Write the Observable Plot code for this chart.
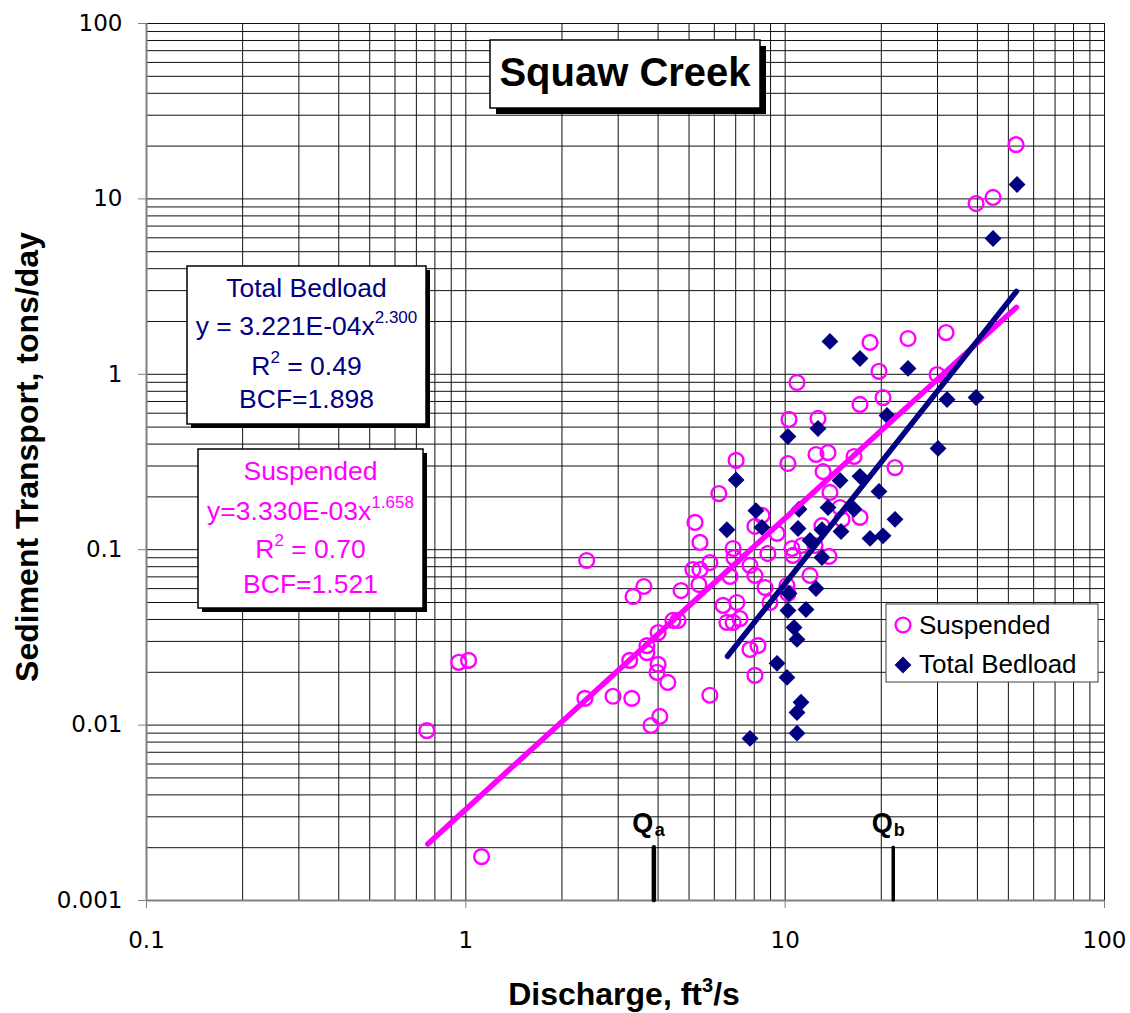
<!DOCTYPE html>
<html><head><meta charset="utf-8">
<script src="https://cdn.jsdelivr.net/npm/d3@7"></script>
<script src="https://cdn.jsdelivr.net/npm/@observablehq/plot@0.6"></script>
<style>body{margin:0;background:#fff}#chart{width:1130px;height:1013px}</style>
</head><body><div id="chart"></div>
<script>
// ---- data ----
const suspendedDischarge = [0.755,0.95,1.02,1.12,2.39,2.36,2.89,3.31,3.34,3.61,4.72,4.0,4.45,4.62,3.69,3.69,3.26,4.0,3.97,4.29,4.05,3.8,
  5.22,5.41,5.14,5.41,5.37,7.02,6.2,5.81,6.87,6.91,6.72,7.76,8.04,8.83,8.65,8.96,10.13,10.2,6.39,7.06,6.57,7.22,6.87,7.76,8.22,8.04,5.81,
  8.46,8.04,9.43,10.5,10.58,11.29,11.96,10.89,10.28,12.67,10.2,12.49,13.62,16.43,13.14,13.81,22.08,15.07,17.15,13.04,12.4,13.72,14.85,
  18.44,24.25,31.9,19.67,20.25,17.15,29.9,52.85,39.61,44.77];
const suspendedTransport = [0.0093,0.0228,0.0234,0.00178,0.0868,0.0142,0.0146,0.0142,0.0541,0.0617,0.0585,0.0337,0.0395,0.0395,0.0284,0.0259,0.0234,0.0222,0.02,0.0175,0.0112,0.00995,
  0.143,0.11,0.0771,0.0771,0.0633,0.323,0.209,0.0845,0.1016,0.0902,0.0704,0.0813,0.0713,0.0951,0.0609,0.05,0.0625,0.0563,0.0481,0.05,0.0385,0.0405,0.0385,0.027,0.0284,0.0192,0.0148,
  0.157,0.136,0.124,0.1016,0.0927,0.1057,0.0713,0.898,0.553,0.56,0.31,0.349,0.358,0.34,0.279,0.212,0.294,0.149,0.153,0.137,0.1057,0.0915,0.174,
  1.52,1.6,1.73,1.04,0.737,0.673,0.997,20.4,9.41,10.19];
const bedloadDischarge = [13.81,17.15,24.25,32.13,39.61,20.84,12.67,10.2,30.11,53.23,44.77,7.02,14.85,17.15,19.67,8.1,11.05,13.62,16.43,
  6.57,8.46,10.97,13.04,14.96,22.08,18.44,20.25,11.96,13.04,12.49,10.28,10.2,11.62,10.66,10.89,9.43,10.13,11.21,10.89,10.89,7.76];
const bedloadTransport = [1.54,1.23,1.08,0.718,0.737,0.582,0.491,0.442,0.378,12.08,5.95,0.25,0.248,0.262,0.215,0.167,0.17,0.174,0.17,
  0.13,0.134,0.132,0.13,0.127,0.149,0.116,0.12,0.113,0.0902,0.0601,0.0563,0.045,0.0456,0.036,0.0308,0.0225,0.0187,0.0135,0.0118,0.009,0.0084];
// fitted trend lines (end points)
const suspendedFitDischarge = [0.76, 53];
const suspendedFitTransport = [0.0021, 2.41];
const bedloadFitDischarge = [6.6, 53];
const bedloadFitTransport = [0.0247, 2.97];
// Qa / Qb markers
const qDischarge = [3.88, 21.8];
const qSubscripts = ["a", "b"];
const qBarBottom = 0.001, qBarTop = 0.002, qLabelLevel = 0.00275;
// ticks & grid
const xTicks = [0.1, 1, 10, 100];
const xTickLabels = ["0.1", "1", "10", "100"];
const yTicks = [0.001, 0.01, 0.1, 1, 10, 100];
const yTickLabels = ["0.001", "0.01", "0.1", "1", "10", "100"];
const xGrid = [0.1,0.2,0.3,0.4,0.5,0.6,0.7,0.8,0.9,1,2,3,4,5,6,7,8,9,10,20,30,40,50,60,70,80,90,100];
const yGrid = [0.001,0.002,0.003,0.004,0.005,0.006,0.007,0.008,0.009,0.01,0.02,0.03,0.04,0.05,0.06,0.07,0.08,0.09,
  0.1,0.2,0.3,0.4,0.5,0.6,0.7,0.8,0.9,1,2,3,4,5,6,7,8,9,10,20,30,40,50,60,70,80,90,100];

const suspended = suspendedDischarge.map((q, i) => ({q, t: suspendedTransport[i]}));
const bedload = bedloadDischarge.map((q, i) => ({q, t: bedloadTransport[i]}));
const suspendedFit = suspendedFitDischarge.map((q, i) => ({q, t: suspendedFitTransport[i]}));
const bedloadFit = bedloadFitDischarge.map((q, i) => ({q, t: bedloadFitTransport[i]}));
const qMarks = qDischarge.map((q, i) => ({q, sub: qSubscripts[i]}));

const MAGENTA = "#FF00FF", NAVY = "#000080";
const ARIAL = "Arial, 'Liberation Sans', sans-serif";

const chart = Plot.plot({
  width: 1130, height: 1013,
  marginLeft: 146, marginRight: 26, marginTop: 23, marginBottom: 113,
  x: {type: "log", domain: [0.1, 100]},
  y: {type: "log", domain: [0.001, 100]},
  style: {background: "#fff", fontFamily: "'DejaVu Sans', sans-serif", fontSize: "23px", color: "#000", overflow: "visible"},
  marks: [
    Plot.ruleX(xGrid, {stroke: "#111", strokeWidth: 1}),
    Plot.ruleY(yGrid, {stroke: "#111", strokeWidth: 1}),
    Plot.ruleX([0.1], {stroke: "#808080", strokeWidth: 2}),
    Plot.ruleY([0.001], {stroke: "#808080", strokeWidth: 2}),
    Plot.axisX(xTicks, {tickFormat: d => xTickLabels[xTicks.indexOf(d)], label: null, tickSize: 8, tickPadding: 23, stroke: "#808080", fontSize: 23, fill: "#000"}),
    Plot.axisY(yTicks, {tickFormat: d => yTickLabels[yTicks.indexOf(d)], label: null, tickSize: 8, tickPadding: 16, stroke: "#808080", fontSize: 23, fill: "#000"}),
    Plot.dot(suspended, {x: "q", y: "t", r: 7.4, stroke: MAGENTA, strokeWidth: 2.4, fill: "none"}),
    Plot.dot(bedload, {x: "q", y: "t", r: 7.6, symbol: "diamond2", fill: NAVY, stroke: "none"}),
    Plot.line(suspendedFit, {x: "q", y: "t", stroke: MAGENTA, strokeWidth: 5.5, strokeLinecap: "round"}),
    Plot.line(bedloadFit, {x: "q", y: "t", stroke: NAVY, strokeWidth: 5.5, strokeLinecap: "round"}),
    Plot.ruleX(qMarks, {x: "q", y1: qBarBottom, y2: qBarTop, stroke: "#000", strokeWidth: (d) => d.sub === "a" ? 4.5 : 3.5, strokeLinecap: "round"}),
    Plot.text(qMarks, {x: "q", y: qLabelLevel, text: () => "Q", dx: -11, fontSize: 27, fontWeight: "bold", fontFamily: ARIAL, fill: "#000"}),
    Plot.text(qMarks, {x: "q", y: qLabelLevel, text: "sub", dx: 6, dy: 7, fontSize: 18, fontWeight: "bold", fontFamily: ARIAL, fill: "#000"})
  ]
});
document.getElementById("chart").appendChild(chart);

// ---- annotations (boxes, legend, axis titles) ----
const svg = d3.select(chart);
const g = svg.append("g").attr("font-family", ARIAL).attr("text-anchor", "start");

function shadowBox(x, y, w, h, off) {
  g.append("rect").attr("x", x + off).attr("y", y + off).attr("width", w).attr("height", h).attr("fill", "#000");
  g.append("rect").attr("x", x).attr("y", y).attr("width", w).attr("height", h).attr("fill", "#fff").attr("stroke", "#000").attr("stroke-width", 1.5);
}
function line(cx, y, parts, color, size) {
  const t = g.append("text").attr("x", cx).attr("y", y).attr("text-anchor", "middle").attr("fill", color).attr("font-size", size);
  parts.forEach(p => {
    const ts = t.append("tspan").text(p.s);
    if (p.sup) ts.attr("font-size", 17).attr("dy", -12);
    if (p.after) ts.attr("dy", 12);
  });
}

// Title
shadowBox(490, 40, 270, 68, 6);
g.append("text").attr("x", 625).attr("y", 86).attr("text-anchor", "middle").attr("font-size", 40).attr("font-weight", "bold").text("Squaw Creek");

// Total bedload equation
shadowBox(187, 266, 239, 158, 4);
line(306.5, 297, [{s: "Total Bedload"}], NAVY, 26.5);
line(306.5, 335, [{s: "y = 3.221E-04x"}, {s: "2.300", sup: true}], NAVY, 26.5);
line(306.5, 375, [{s: "R"}, {s: "2", sup: true}, {s: " = 0.49", after: true}], NAVY, 26.5);
line(306.5, 408, [{s: "BCF=1.898"}], NAVY, 26.5);

// Suspended equation
shadowBox(198, 449, 225, 159, 4);
line(310.5, 480, [{s: "Suspended"}], MAGENTA, 26.5);
line(310.5, 520, [{s: "y=3.330E-03x"}, {s: "1.658", sup: true}], MAGENTA, 26.5);
line(310.5, 558, [{s: "R"}, {s: "2", sup: true}, {s: " = 0.70", after: true}], MAGENTA, 26.5);
line(310.5, 593, [{s: "BCF=1.521"}], MAGENTA, 26.5);

// Legend
g.append("rect").attr("x", 886).attr("y", 604).attr("width", 212).attr("height", 78).attr("fill", "#fff").attr("stroke", "#404040").attr("stroke-width", 1);
g.append("circle").attr("cx", 903).attr("cy", 625).attr("r", 7.4).attr("fill", "none").attr("stroke", MAGENTA).attr("stroke-width", 2.4);
g.append("path").attr("d", d3.symbol(d3.symbolDiamond2, Math.PI * 7.6 * 7.6)()).attr("transform", "translate(903,665)").attr("fill", NAVY);
g.append("text").attr("x", 919).attr("y", 634).attr("text-anchor", "start").attr("font-size", 26).text("Suspended");
g.append("text").attr("x", 919).attr("y", 673).attr("text-anchor", "start").attr("font-size", 26).text("Total Bedload");

// Axis titles
g.append("text").attr("transform", "translate(38,457) rotate(-90)").attr("text-anchor", "middle")
  .attr("font-size", 32).attr("font-weight", "bold").text("Sediment Transport, tons/day");
const xt = g.append("text").attr("x", 624).attr("y", 1005).attr("text-anchor", "middle").attr("font-size", 32).attr("font-weight", "bold");
xt.append("tspan").text("Discharge, ft");
xt.append("tspan").text("3").attr("font-size", 20).attr("dy", -13);
xt.append("tspan").text("/s").attr("dy", 13);
</script>
</body></html>
